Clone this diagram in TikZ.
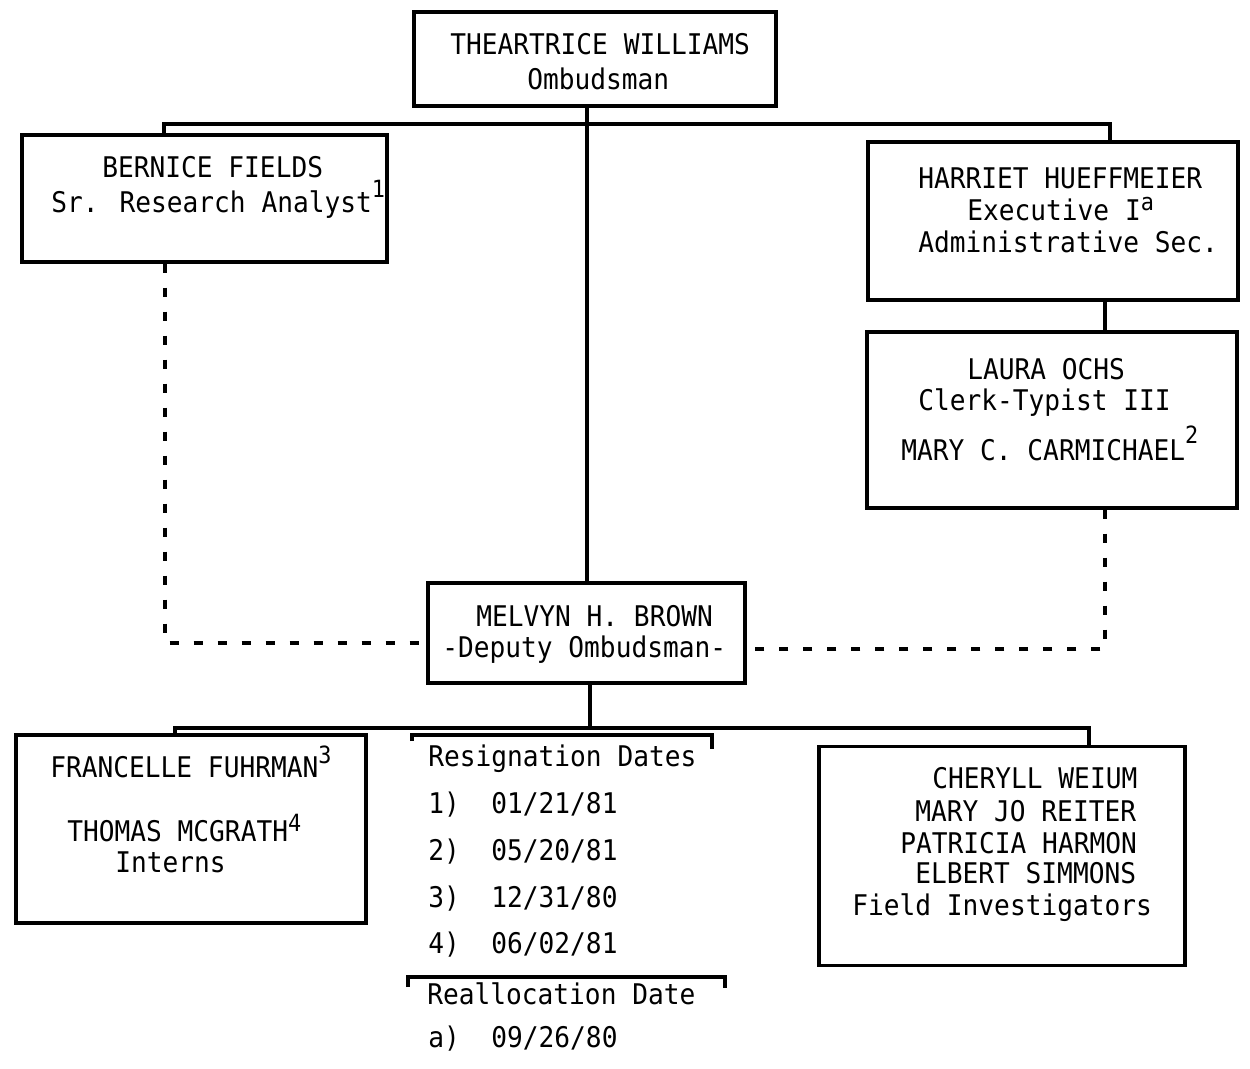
\documentclass[tikz,border=0pt]{standalone}
\usepackage{fontspec}
\setmainfont{DejaVu Sans Mono}[FakeStretch=0.92]
\newcommand\su[2]{\raisebox{#1}{\fontsize{13.5}{13.5}\selectfont #2}}
\begin{document}
\begin{tikzpicture}[x=0.02cm,y=-0.02cm,
  box/.style={draw,line width=1.9pt,inner sep=0pt},
  lbl/.style={inner sep=0pt,text height=12pt,text depth=0pt,anchor=west,font=\fontsize{16.2}{17.6}\selectfont},
  con/.style={line width=1.9pt},
  dsh/.style={line width=1.9pt,dash pattern=on 0.18cm off 0.3cm}]
\useasboundingbox (0,0) rectangle (1250,1068);
% boxes
\node[box,minimum width=362*0.02cm,minimum height=94*0.02cm] (top) at (595,59) {};
\node[box,minimum width=365*0.02cm,minimum height=127*0.02cm] (bernice) at (204.5,198.5) {};
\node[box,minimum width=370*0.02cm,minimum height=158*0.02cm] (harriet) at (1053,221) {};
\node[box,minimum width=370*0.02cm,minimum height=176*0.02cm] (laura) at (1052,420) {};
\node[box,minimum width=317*0.02cm,minimum height=100*0.02cm] (melvyn) at (586.5,633) {};
\node[box,minimum width=350*0.02cm,minimum height=188*0.02cm] (francelle) at (191,829) {};
\node[box,minimum width=366*0.02cm,minimum height=219*0.02cm] (field) at (1002,856) {};
% texts
\node[lbl] (t1) at (450,44) {THEARTRICE WILLIAMS};
\node[lbl] (t2) at (527,79) {Ombudsman};
\node[lbl] (b1) at (102,167) {BERNICE FIELDS};
\node[lbl] (b2) at (51,202) {Sr. Research Analyst\su{8.5pt}{1}};
\node[lbl] (h1) at (918,178) {HARRIET HUEFFMEIER};
\node[lbl] (h2) at (967,210) {Executive I\su{5.5pt}{a}};
\node[lbl] (h3) at (918,242) {Administrative Sec.};
\node[lbl] (l1) at (967,369) {LAURA OCHS};
\node[lbl] (l2) at (918,400) {Clerk-Typist III};
\node[lbl] (l3) at (901,450) {MARY C. CARMICHAEL\su{9.5pt}{2}};
\node[lbl] (m1) at (476,616) {MELVYN H. BROWN};
\node[lbl] (m2) at (442,647) {-Deputy Ombudsman-};
\node[lbl] (f1) at (50,767) {FRANCELLE FUHRMAN\su{8pt}{3}};
\node[lbl] (f2) at (67,831) {THOMAS MCGRATH\su{5.6pt}{4}};
\node[lbl] (f3) at (115,862) {Interns};
\node[lbl] (g1) at (932,778) {CHERYLL WEIUM};
\node[lbl] (g2) at (915,811) {MARY JO REITER};
\node[lbl] (g3) at (900,843) {PATRICIA HARMON};
\node[lbl] (g4) at (915,873) {ELBERT SIMMONS};
\node[lbl] (g5) at (852,905) {Field Investigators};
\node[lbl] (r0) at (428,756) {Resignation Dates};
\node[lbl] (r1) at (428,803) {1)\hphantom{xx}01/21/81};
\node[lbl] (r2) at (428,850) {2)\hphantom{xx}05/20/81};
\node[lbl] (r3) at (428,897) {3)\hphantom{xx}12/31/80};
\node[lbl] (r4) at (428,943) {4)\hphantom{xx}06/02/81};
\node[lbl] (a0) at (427,994) {Reallocation Date};
\node[lbl] (a1) at (428,1037) {a)\hphantom{xx}09/26/80};
% connectors
\coordinate (tb) at (587,122);
\coordinate (bl) at (164,122);
\coordinate (br) at (1110,124);
\draw[con] (top.south -| tb) -- (melvyn.north -| tb);
\draw[con] (bernice.north -| bl) |- (br) -- (harriet.north -| br);
\coordinate (hl) at (1105,0);
\draw[con] (harriet.south -| hl) -- (laura.north -| hl);
\coordinate (dl) at (165,643);
\draw[dsh] (bernice.south -| dl) |- (melvyn.west |- dl);
\coordinate (dr) at (1105,649);
\draw[dsh] (laura.south -| dr) |- (melvyn.east |- dr);
\coordinate (mb) at (590,726);
\coordinate (fl) at (175,724);
\coordinate (fr) at (1089,728);
\draw[con] (melvyn.south -| mb) -- (mb);
\draw[con] (francelle.north -| fl) |- (fr) -- (field.north -| fr);
% brackets
\draw[con] (412,741) -- (412,735) -- (712,735) -- (712,749);
\draw[con] (408,987) -- (408,977) -- (725,977) -- (725,988);
\end{tikzpicture}
\end{document}
